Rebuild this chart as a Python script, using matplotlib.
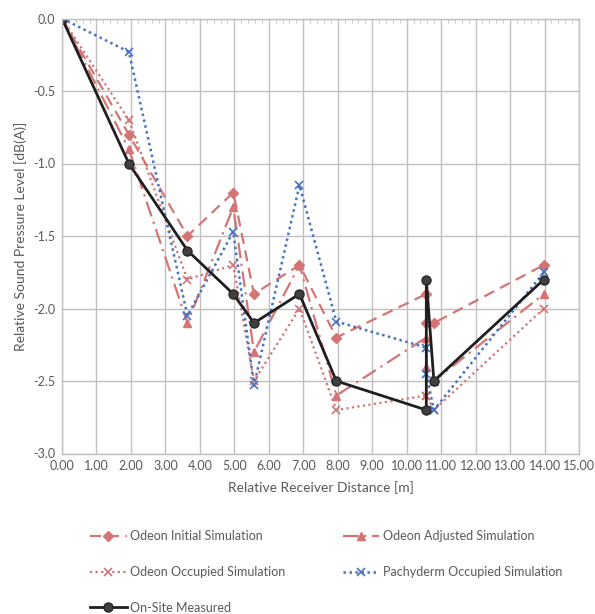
import matplotlib
matplotlib.use('Agg')
import matplotlib.pyplot as plt
from matplotlib.ticker import MultipleLocator, FormatStrFormatter

plt.rcParams['font.family'] = ['Lato', 'DejaVu Sans']
plt.rcParams['axes.unicode_minus'] = False

# receiver distances [m]
distance = [0.0, 1.94, 3.64, 4.97, 5.57, 6.89, 7.96, 10.57, 10.57, 10.79, 13.98]

odeon_initial = [0.0, -0.8, -1.5, -1.2, -1.9, -1.7, -2.2, -1.9, -2.1, -2.1, -1.7]
odeon_adjusted = [0.0, -0.9, -2.1, -1.3, -2.3, -1.7, -2.6, -2.2, -2.4, -2.5, -1.9]
odeon_occupied = [0.0, -0.7, -1.8, -1.7, -2.5, -2.0, -2.7, -2.6, -2.6, -2.7, -2.0]
pachyderm_occupied = [0.0, -0.23, -2.05, -1.47, -2.53, -1.15, -2.09, -2.27, -2.45, -2.7, -1.75]
measured = [0.0, -1.0, -1.6, -1.9, -2.1, -1.9, -2.5, -2.7, -1.8, -2.5, -1.8]

RED = '#d47474'
BLUE = '#4472c4'
GREY = '#595959'
GRID = '#c0c0c0'

fig = plt.figure(figsize=(5.95, 6.14), dpi=100)
ax = fig.add_axes([62 / 595, 1 - 453.5 / 614, (579 - 62) / 595, 435 / 614])

h_init, = ax.plot(distance, odeon_initial, color=RED, lw=1.6, ls=(0, (5, 3)),
                  marker='D', ms=5, label='Odeon Initial Simulation')
h_adj, = ax.plot(distance, odeon_adjusted, color=RED, lw=1.6, ls=(0, (7, 2.5, 1, 2.5)),
                 marker='^', ms=6, label='Odeon Adjusted Simulation')
h_occ, = ax.plot(distance, odeon_occupied, color=RED, lw=1.6, ls=(0, (1, 1.5)),
                 marker='x', ms=6, mew=1.2, label='Odeon Occupied Simulation')
h_pach, = ax.plot(distance, pachyderm_occupied, color=BLUE, lw=1.8, ls=(0, (1, 1.4)),
                  marker='x', ms=6, mew=1.2, label='Pachyderm Occupied Simulation')
h_meas, = ax.plot(distance, measured, color='#1f1f1f', lw=2.0, marker='o', ms=6.5,
                  mfc='#404040', mec='#262626', label='On-Site Measured')

ax.set_xlim(0, 15)
ax.set_ylim(-3, 0)
ax.xaxis.set_major_locator(MultipleLocator(1))
ax.yaxis.set_major_locator(MultipleLocator(0.5))
ax.xaxis.set_major_formatter(FormatStrFormatter('%.2f'))
ax.yaxis.set_major_formatter(FormatStrFormatter('%.1f'))
ax.grid(True, color=GRID, lw=1.0)
ax.set_axisbelow(True)
for s in ax.spines.values():
    s.set_color(GRID)
    s.set_linewidth(1.0)

ax.tick_params(axis='both', length=0, labelsize=9, labelcolor=GREY, pad=5)
# minor ticks along the top (axis crosses at 0)
ax.xaxis.set_minor_locator(MultipleLocator(0.2))
ax.tick_params(axis='x', which='minor', top=True, bottom=False, direction='in',
               length=3, color=GRID)

ax.set_xlabel('Relative Receiver Distance [m]', fontsize=10, color=GREY, labelpad=6)
ax.set_ylabel('Relative Sound Pressure Level [dB(A)]', fontsize=10, color=GREY, labelpad=4)

fig.legend(handles=[h_init, h_occ, h_meas, h_adj, h_pach], ncol=2, frameon=False,
           loc='lower left', bbox_to_anchor=(79 / 595, -0.018), fontsize=9,
           labelcolor=GREY, handlelength=2.9, handletextpad=0.3,
           columnspacing=4.6, labelspacing=1.9)

fig.savefig('out.png', dpi=100)
